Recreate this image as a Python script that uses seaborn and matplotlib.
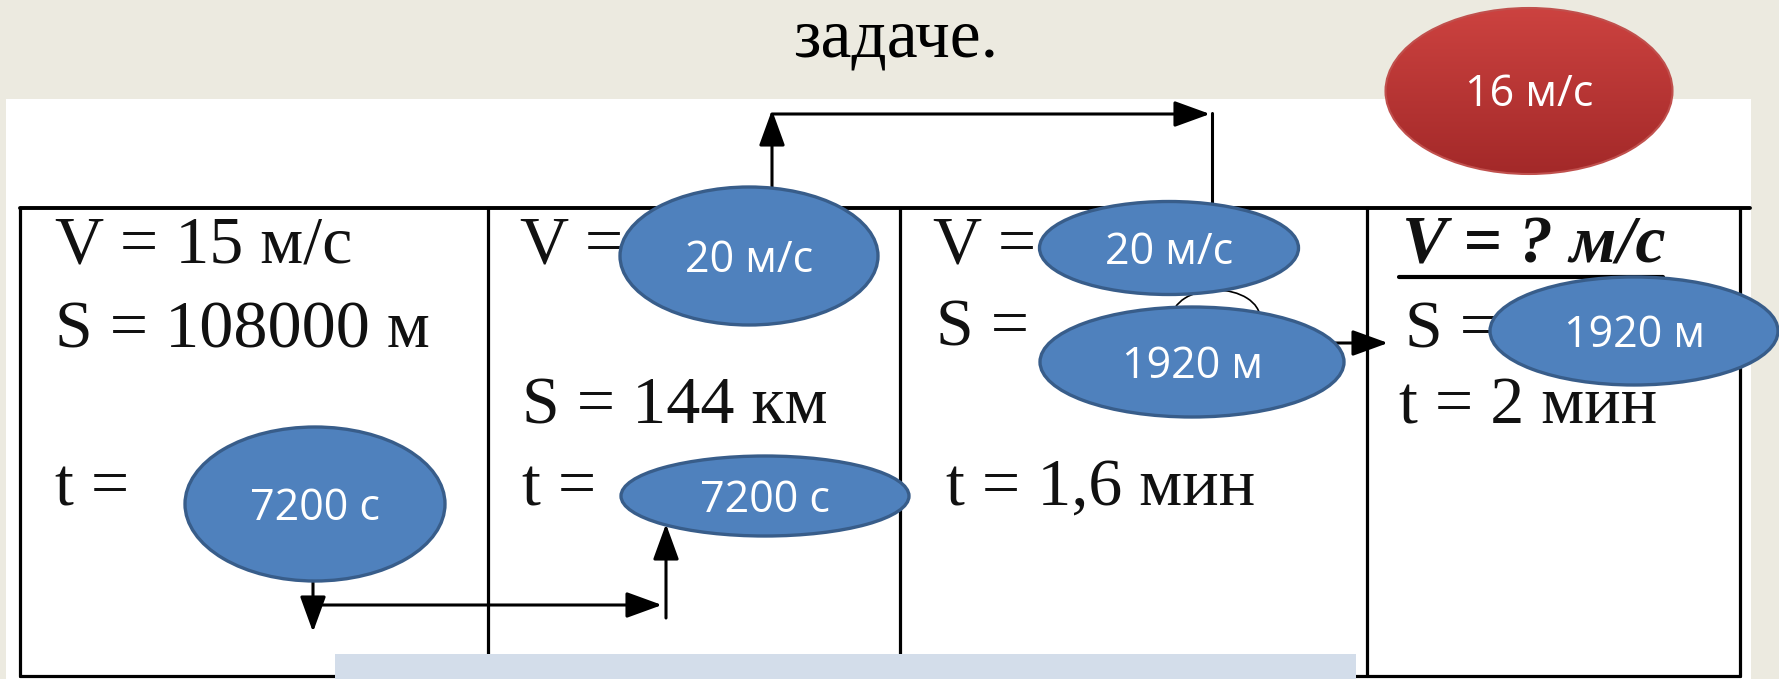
import matplotlib
matplotlib.use("Agg")
import numpy as np
import matplotlib.pyplot as plt
import seaborn as sns
from matplotlib.patches import Ellipse, Rectangle, Arc

# slide content
title = "задаче."
cell_text = [
    ["V = 15 м/с", "S = 108000 м", "t ="],
    ["V =", "S = 144 км", "t ="],
    ["V =", "S =", "t = 1,6 мин"],
    ["V = ? м/с", "S =", "t = 2 мин"],
]
bubble_labels = ["20 м/с", "20 м/с", "1920 м", "1920 м", "7200 с", "7200 с"]
answer_label = "16 м/с"

# layout (pixels, y downwards)
W, H = 1779, 679
col_x = [20, 488, 900, 1367, 1740]
table_top, table_bottom = 208, 676
cell_pos = [
    [(55, 263), (55, 347), (55, 505)],
    [(520, 263), (522, 423), (522, 505)],
    [(933, 263), (936, 346), (946, 505)],
    [(1402, 263), (1405, 347), (1399, 423)],
]
bubble_geom = [(749, 256, 258, 138), (1169, 248, 259, 93), (1192, 362, 304, 110),
               (1634, 331, 288, 108), (315, 504, 260, 154), (765, 496, 288, 80)]
answer_geom = (1529, 91, 287, 166)

BG = "#ECEAE0"
BLUE, BLUE_EDGE = "#4F81BD", "#385D8A"
SERIF = "Liberation Serif"
SANS = "Open Sans"

sns.set_theme(style="white")
plt.rcParams["font.family"] = [SERIF, "DejaVu Serif"]

fig = plt.figure(figsize=(W / 100, H / 100), dpi=100, facecolor=BG)
ax = fig.add_axes([0, 0, 1, 1])
ax.set_facecolor(BG)
ax.set_axis_off()

# white picture area and table
ax.add_patch(Rectangle((6, 99), 1745, 590, facecolor="white", edgecolor="none", zorder=1))
lw = 2.3
ax.plot([col_x[0], 1750], [table_top, table_top], color="black", lw=2.8, zorder=2)
ax.plot([col_x[0], col_x[-1]], [table_bottom, table_bottom], color="black", lw=lw, zorder=2)
for x in col_x:
    ax.plot([x, x], [table_top, table_bottom], color="black", lw=lw, zorder=2)

for c, (lines, poss) in enumerate(zip(cell_text, cell_pos)):
    for txt, (x, y) in zip(lines, poss):
        bold_it = c == 3 and txt.startswith("V")
        ax.text(x, y, txt, fontsize=49, ha="left", va="baseline", color="#111111",
                fontfamily=SERIF, fontweight="bold" if bold_it else "normal",
                fontstyle="italic" if bold_it else "normal", zorder=3)
ax.plot([1399, 1663], [277, 277], color="black", lw=3, zorder=3)

ax.text(896, 57, title, fontsize=50, ha="center", va="baseline", color="black",
        fontfamily=SERIF, zorder=3)


def arrow(x0, y0, x1, y1):
    ax.annotate("", xy=(x1, y1), xytext=(x0, y0), zorder=3,
                arrowprops=dict(arrowstyle="-|>,head_length=0.55,head_width=0.2",
                                mutation_scale=40, lw=2.2, color="black",
                                shrinkA=0, shrinkB=0))


arrow(772, 200, 772, 110)
arrow(772, 114, 1210, 114)
ax.plot([1212, 1212], [113, table_top], color="black", lw=2.2, zorder=3)
arrow(313, 580, 313, 632)
arrow(313, 605, 662, 605)
arrow(666, 618, 666, 524)
arrow(1300, 343, 1388, 343)
ax.add_patch(Arc((1216, 318), 88, 56, theta1=180, theta2=360, color="black", lw=1.2, zorder=3))

# bottom light-blue strip
ax.add_patch(Rectangle((335, 654), 1021, 30, facecolor="#D3DDEA", edgecolor="none", zorder=4))

# blue bubbles
for label, (cx, cy, w, h) in zip(bubble_labels, bubble_geom):
    ax.add_patch(Ellipse((cx, cy), w, h, facecolor=BLUE, edgecolor=BLUE_EDGE, lw=2.4, zorder=5))
    ax.text(cx, cy + 16, label, fontsize=31, ha="center", va="baseline", color="white",
            fontfamily=SANS, zorder=6)

# red answer bubble with vertical gradient
cx, cy, w, h = answer_geom
red = Ellipse((cx, cy), w, h, facecolor="none", edgecolor="#C0504D", lw=1.5, zorder=6)
ax.add_patch(red)
top_c = np.array([0.80, 0.26, 0.25])
bot_c = np.array([0.64, 0.16, 0.16])
grad = np.linspace(0, 1, 128)[:, None, None] * (bot_c - top_c) + top_c
im = ax.imshow(grad, extent=[cx - w / 2, cx + w / 2, cy + h / 2, cy - h / 2],
               aspect="auto", zorder=5)
im.set_clip_path(red)
ax.text(cx, cy + 15, answer_label, fontsize=31, ha="center", va="baseline", color="white",
        fontfamily=SANS, zorder=7)

ax.set_xlim(0, W)
ax.set_ylim(H, 0)
fig.savefig("out.png", dpi=100, facecolor=BG)
